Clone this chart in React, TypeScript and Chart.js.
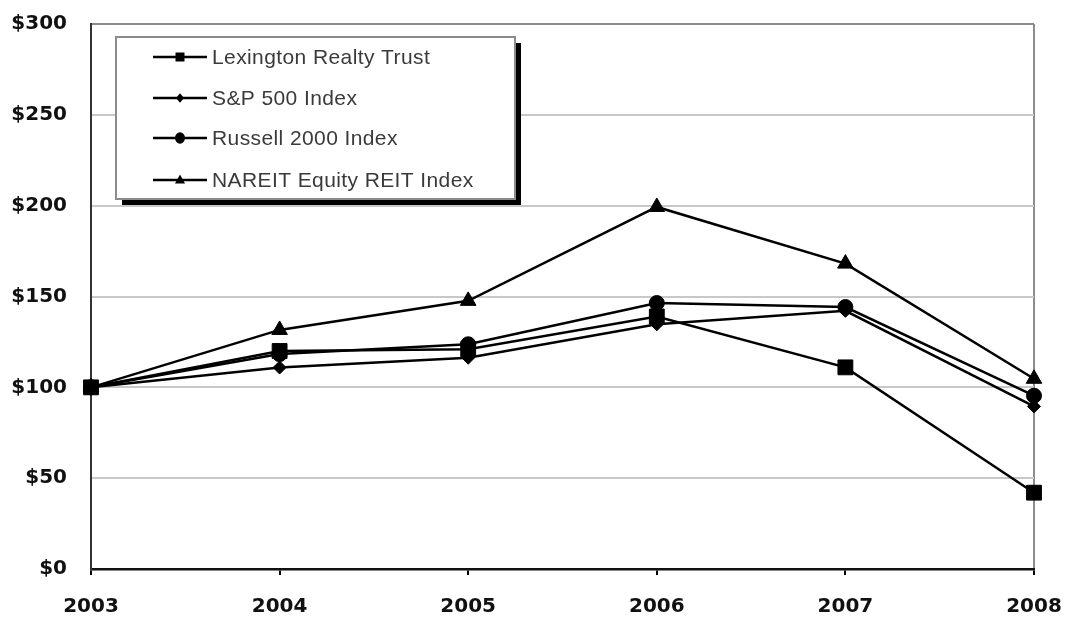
import React, { useEffect, useRef } from "react";
import { Chart, registerables } from "chart.js";

Chart.register(...registerables);

const years = ["2003", "2004", "2005", "2006", "2007", "2008"];
const lexington = [100, 120, 121, 139, 111, 42];
const sp500 = [100, 110.9, 116.3, 134.7, 142.1, 89.5];
const russell = [100, 118.3, 123.7, 146.4, 144.2, 95.4];
const nareit = [100, 131.6, 147.6, 199.3, 168.1, 104.7];
const seriesNames = [
  "Lexington Realty Trust",
  "S&P 500 Index",
  "Russell 2000 Index",
  "NAREIT Equity REIT Index",
];
const yTicks = [0, 50, 100, 150, 200, 250, 300];

function drawMarker(ctx: CanvasRenderingContext2D, style: string, x: number, y: number, s: number) {
  ctx.beginPath();
  if (style === "rect") {
    ctx.rect(x - s, y - s, 2 * s, 2 * s);
  } else if (style === "rectRot") {
    ctx.moveTo(x, y - s * 1.2);
    ctx.lineTo(x + s, y);
    ctx.lineTo(x, y + s * 1.2);
    ctx.lineTo(x - s, y);
    ctx.closePath();
  } else if (style === "circle") {
    ctx.ellipse(x, y, s, s * 1.15, 0, 0, Math.PI * 2);
  } else if (style === "triangle") {
    ctx.moveTo(x, y - s * 1.1);
    ctx.lineTo(x + s, y + s * 0.7);
    ctx.lineTo(x - s, y + s * 0.7);
    ctx.closePath();
  }
  ctx.fillStyle = "#000";
  ctx.fill();
}

const legendBox = {
  id: "legendBox",
  afterDraw(chart: any) {
    const ctx = chart.ctx as CanvasRenderingContext2D;
    const left = 116, top = 37, w = 399, h = 162;
    ctx.save();
    ctx.fillStyle = "#000";
    ctx.fillRect(left + 6, top + 6, w, h);
    ctx.fillStyle = "#fff";
    ctx.fillRect(left, top, w, h);
    ctx.strokeStyle = "#8c8c8c";
    ctx.lineWidth = 2;
    ctx.strokeRect(left, top, w, h);
    const rows = [57, 98, 138, 180];
    const sizes = [4.5, 4, 5, 5];
    chart.data.datasets.forEach((ds: any, i: number) => {
      const y = rows[i];
      ctx.strokeStyle = "#000";
      ctx.lineWidth = 2.5;
      ctx.beginPath();
      ctx.moveTo(153, y);
      ctx.lineTo(207, y);
      ctx.stroke();
      drawMarker(ctx, ds.pointStyle, 180, y, sizes[i]);
      ctx.fillStyle = "#3a3a3a";
      ctx.font = "21px 'Liberation Sans', Arial, sans-serif";
      (ctx as any).letterSpacing = "0.4px";
      ctx.textBaseline = "middle";
      ctx.textAlign = "left";
      ctx.fillText(ds.label, 212, y + 1);
      (ctx as any).letterSpacing = "0px";
    });
    ctx.restore();
  },
};

export default function App() {
  const ref = useRef<HTMLCanvasElement | null>(null);
  useEffect(() => {
    document.body.style.margin = "0";
    if (!ref.current) return;
    const common = {
      borderColor: "#000",
      backgroundColor: "#000",
      pointBackgroundColor: "#000",
      pointBorderColor: "#000",
      borderWidth: 2.5,
      pointBorderWidth: 1,
      tension: 0,
      fill: false,
    };
    const chart = new Chart(ref.current, {
      type: "line",
      data: {
        labels: years,
        datasets: [
          { ...common, label: seriesNames[0], data: lexington, pointStyle: "rect", pointRadius: 10.5 },
          { ...common, label: seriesNames[1], data: sp500, pointStyle: "rectRot", pointRadius: 6.5 },
          { ...common, label: seriesNames[2], data: russell, pointStyle: "circle", pointRadius: 7.5 },
          { ...common, label: seriesNames[3], data: nareit, pointStyle: "triangle", pointRadius: 9 },
        ],
      },
      options: {
        animation: false,
        responsive: true,
        maintainAspectRatio: false,
        layout: { padding: { top: 24, right: 31, left: 0, bottom: 0 } },
        plugins: { legend: { display: false }, tooltip: { enabled: false } },
        scales: {
          x: {
            type: "category",
            offset: false,
            afterFit: (s: any) => {
              s.height = 48;
              s.paddingLeft = 0;
              s.paddingRight = 0;
            },
            grid: {
              drawOnChartArea: true,
              color: (c: any) => (c.index === years.length - 1 ? "#8c8c8c" : "rgba(0,0,0,0)"),
              lineWidth: 2,
              drawTicks: true,
              tickLength: 6,
              tickColor: "#000",
              tickWidth: 2,
            },
            border: { display: true, color: "#111", width: 2.5 },
            ticks: {
              color: "#111",
              padding: 20,
              maxRotation: 0,
              autoSkip: false,
              font: { family: "'DejaVu Sans'", size: 20, weight: "bold" },
            },
          },
          y: {
            min: 0,
            max: 300,
            afterFit: (s: any) => {
              s.width = 91;
              s.paddingTop = 0;
              s.paddingBottom = 0;
            },
            afterBuildTicks: (s: any) => { s.ticks = yTicks.map((v) => ({ value: v })); },
            grid: {
              color: (c: any) => (c.tick && c.tick.value === 300 ? "#8c8c8c" : "#c8c8c8"),
              lineWidth: 2,
              drawTicks: false,
            },
            border: { display: true, color: "#333", width: 2 },
            ticks: {
              color: "#111",
              padding: 24,
              callback: (v: any) => "$" + v,
              font: { family: "'DejaVu Sans'", size: 20, weight: "bold" },
            },
          },
        },
      },
      plugins: [legendBox],
    } as any);
    return () => chart.destroy();
  }, []);
  return (
    <div style={{ position: "absolute", left: 0, top: 0, width: 1065, height: 617, background: "#fff" }}>
      <canvas ref={ref} />
    </div>
  );
}
